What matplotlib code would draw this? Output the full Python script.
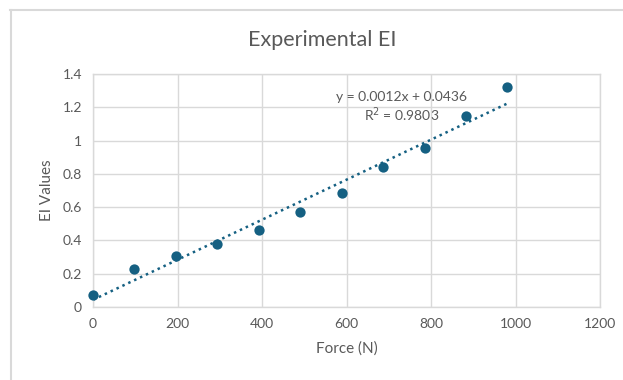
import numpy as np
import matplotlib
matplotlib.use("Agg")
import matplotlib.pyplot as plt
from matplotlib.lines import Line2D

# ── Data ────────────────────────────────────────────────────────────
force = [0, 98.1, 196.2, 294.3, 392.4, 490.5, 588.6, 686.7, 784.8, 882.9, 981.0]
ei_values = [0.075, 0.23, 0.305, 0.38, 0.46, 0.57, 0.685, 0.84, 0.955, 1.145, 1.32]
x_ticks = [0, 200, 400, 600, 800, 1000, 1200]
y_ticks = [0, 0.2, 0.4, 0.6, 0.8, 1.0, 1.2, 1.4]
y_tick_labels = ["0", "0.2", "0.4", "0.6", "0.8", "1", "1.2", "1.4"]

# ── Style ───────────────────────────────────────────────────────────
plt.rcParams["font.family"] = ["Lato", "DejaVu Sans"]
MARK = "#156082"
TXT = "#595959"
GRID = "#d9d9d9"

fig = plt.figure(figsize=(6.23, 3.8), dpi=100)
ax = fig.add_axes([93 / 623, 1 - 307 / 380, 507 / 623, 233 / 380])

ax.scatter(force, ei_values, s=55, color=MARK, zorder=3, linewidths=0,
           clip_on=False)

# linear trendline
k, b = np.polyfit(force, ei_values, 1)
xs = np.array([force[0], force[-1]])
ax.plot(xs, k * xs + b, color=MARK, lw=1.8, ls=(0, (1, 1.6)), zorder=2)
ax.text(731, 1.263, "y = 0.0012x + 0.0436", ha="center", va="center",
        fontsize=10, color=TXT)
ax.text(731, 1.158, "R$^2$ = 0.9803", ha="center", va="center",
        fontsize=10, color=TXT)

ax.set_xlim(0, 1200)
ax.set_ylim(0, 1.4)
ax.set_xticks(x_ticks)
ax.set_yticks(y_ticks)
ax.set_yticklabels(y_tick_labels)
ax.grid(True, color=GRID, lw=1)
ax.set_axisbelow(True)
ax.tick_params(length=0, colors=TXT, labelsize=10, pad=8)
for s in ax.spines.values():
    s.set_color(GRID)
    s.set_linewidth(1)

ax.set_xlabel("Force (N)", color=TXT, fontsize=11, labelpad=8)
ax.set_ylabel("EI Values", color=TXT, fontsize=11, labelpad=6)
fig.text(322 / 623, 1 - 40 / 380, "Experimental EI", ha="center", va="center",
         fontsize=15.5, color=TXT)

# chart border (screenshot frame)
fig.add_artist(Line2D([10 / 623, 1], [1 - 10 / 380] * 2, color=GRID, lw=1.5,
                      transform=fig.transFigure))
fig.add_artist(Line2D([11 / 623] * 2, [0, 1 - 10 / 380], color=GRID, lw=1.5,
                      transform=fig.transFigure))

fig.savefig("out.png", dpi=100, facecolor="white")
